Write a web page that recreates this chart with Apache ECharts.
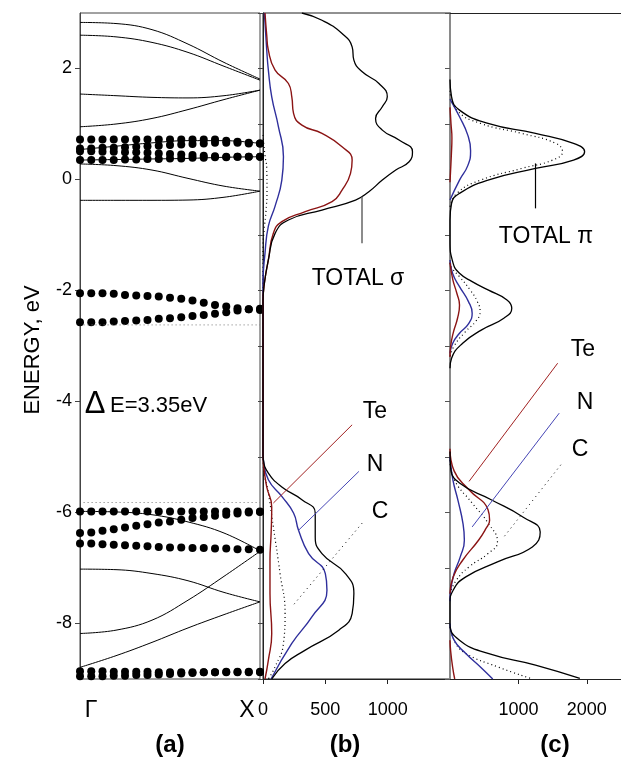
<!DOCTYPE html>
<html><head><meta charset="utf-8">
<script src="https://cdn.jsdelivr.net/npm/echarts@6/dist/echarts.min.js"></script>
<style>html,body{margin:0;padding:0;background:#fff}#c{width:621px;height:758px}</style>
</head><body><div id="c"></div>
<script>
// ---------- Panel (a): band structure, k from Gamma (0) to X (1) ----------
const kLine = [0, 0.2, 0.4, 0.6, 0.8, 1];
const bandLines = [
  [2.83, 2.81, 2.70, 2.44, 2.11, 1.81],
  [2.60, 2.57, 2.47, 2.29, 2.04, 1.79],
  [1.54, 1.51, 1.48, 1.47, 1.51, 1.61],
  [0.95, 1.00, 1.10, 1.26, 1.44, 1.61],
  [0.54, 0.60, 0.66, 0.70, 0.70, 0.65],
  [0.35, 0.36, 0.37, 0.38, 0.40, 0.41],
  [0.28, 0.25, 0.17, 0.02, -0.12, -0.21],
  [-0.375, -0.375, -0.375, -0.37, -0.32, -0.21],
  [-5.98, -5.99, -6.04, -6.17, -6.37, -6.69],
  [-7.02, -7.03, -7.10, -7.23, -7.44, -7.61],
  [-8.18, -8.12, -7.94, -7.58, -7.15, -6.70],
  [-8.79, -8.58, -8.34, -8.08, -7.84, -7.61]
];
const kDots = [0, 0.0625, 0.125, 0.1875, 0.25, 0.3125, 0.375, 0.4375, 0.5, 0.5625, 0.625, 0.6875, 0.75, 0.8125, 0.875, 0.9375, 1];
const dotBands = [
  [0.72,0.72,0.72,0.72,0.72,0.72,0.72,0.72,0.72,0.72,0.72,0.72,0.72,0.70,0.68,0.66,0.65],
  [0.56,0.56,0.57,0.57,0.58,0.59,0.60,0.61,0.62,0.63,0.64,0.65,0.66,0.66,0.66,0.65,0.65],
  [0.51,0.51,0.50,0.50,0.49,0.49,0.48,0.47,0.46,0.45,0.44,0.43,0.42,0.41,0.41,0.41,0.41],
  [0.35,0.35,0.35,0.35,0.36,0.36,0.37,0.37,0.38,0.38,0.39,0.39,0.40,0.40,0.41,0.41,0.41],
  [-2.05,-2.05,-2.05,-2.06,-2.08,-2.09,-2.10,-2.11,-2.13,-2.15,-2.18,-2.22,-2.26,-2.29,-2.32,-2.34,-2.35],
  [-2.57,-2.57,-2.57,-2.56,-2.55,-2.54,-2.53,-2.51,-2.50,-2.48,-2.46,-2.44,-2.42,-2.39,-2.36,-2.34,-2.33],
  [-5.98,-5.98,-5.98,-5.98,-5.98,-5.98,-5.98,-5.98,-5.98,-5.98,-5.98,-5.98,-5.98,-5.98,-5.98,-5.98,-5.98],
  [-6.37,-6.36,-6.33,-6.30,-6.27,-6.24,-6.21,-6.18,-6.16,-6.13,-6.10,-6.08,-6.06,-6.04,-6.02,-6.00,-5.99],
  [-6.56,-6.56,-6.57,-6.58,-6.59,-6.60,-6.61,-6.62,-6.63,-6.63,-6.64,-6.64,-6.65,-6.65,-6.66,-6.66,-6.67],
  [-8.86,-8.86,-8.86,-8.87,-8.87,-8.87,-8.87,-8.88,-8.88,-8.88,-8.88,-8.88,-8.88,-8.88,-8.88,-8.88,-8.88],
  [-8.95,-8.95,-8.95,-8.94,-8.94,-8.93,-8.93,-8.92,-8.91,-8.90,-8.89,-8.88,-8.88,-8.87,-8.87,-8.87,-8.87]
];
const gapEdges = [-2.62, -5.82];
const gapK = [0.02, 1];
const yTicksA = [-8, -6, -4, -2, 0, 2];

// ---------- Panel (b): sigma DOS, [value, energy] ----------
const sigmaTotal = [[312,3.0],[473,2.87],[634,2.63],[715,2.39],[729,2.15],[796,1.94],[930,1.73],[997,1.49],[957,1.31],[903,1.10],[957,0.89],[1091,0.71],[1199,0.50],[1172,0.32],[1065,0.17],[957,-0.01],[849,-0.22],[742,-0.37],[473,-0.55],[204,-0.73],[97,-0.97],[43,-1.45],[11,-1.87],[0,-2.2],[0,-4.95],[3,-5.05],[43,-5.29],[151,-5.54],[312,-5.77],[419,-6.01],[419,-6.44],[473,-6.74],[661,-7.10],[729,-7.46],[715,-7.82],[608,-8.12],[339,-8.48],[177,-8.72],[70,-9.0]];
const sigmaTe = [[16,3.0],[30,2.6],[43,2.33],[97,1.97],[204,1.73],[231,1.49],[245,1.19],[312,0.98],[473,0.83],[634,0.59],[715,0.35],[702,0.11],[634,-0.19],[554,-0.40],[339,-0.58],[151,-0.76],[83,-0.97],[43,-1.45],[11,-1.87],[0,-2.2],[0,-4.95],[3,-5.11],[30,-5.54],[70,-5.90],[65,-6.38],[56,-6.86],[56,-7.46],[70,-8.18],[43,-8.66],[16,-9.0]];
const sigmaN = [[11,3.0],[30,2.33],[43,1.97],[70,1.49],[124,0.95],[164,0.41],[151,-0.01],[97,-0.48],[43,-0.84],[16,-1.33],[0,-1.87],[0,-4.95],[3,-5.05],[43,-5.41],[151,-5.71],[245,-6.01],[285,-6.32],[366,-6.74],[500,-7.10],[513,-7.40],[392,-7.88],[231,-8.36],[65,-9.0]];
const sigmaC = [[0,0.8],[15,0.45],[30,0.2],[32,-0.2],[25,-0.55],[10,-0.9],[0,-1.2],[0,-4.95],[3,-5.17],[43,-5.65],[83,-6.26],[137,-7.10],[177,-7.82],[164,-8.36],[97,-8.78],[43,-9.0]];
const xTicksB = [0, 500, 1000];

// ---------- Panel (c): pi DOS, segments ----------
const piTotal = [
  [[0,1.8],[23,1.49],[139,1.25],[556,1.01],[1250,0.83],[1806,0.65],[1968,0.50],[1806,0.35],[1250,0.20],[556,-0.01],[139,-0.25],[23,-0.43],[0,-0.73],[0,-1.09],[46,-1.51],[139,-1.69],[324,-1.84],[556,-1.99],[833,-2.17],[903,-2.32],[787,-2.50],[463,-2.71],[185,-2.95],[23,-3.22],[0,-3.4]],
  [[0,-4.9],[10,-5.2],[139,-5.47],[602,-5.77],[1065,-6.08],[1319,-6.35],[1204,-6.62],[694,-6.89],[231,-7.16],[46,-7.40],[0,-7.64],[0,-8.0],[139,-8.30],[556,-8.54],[1250,-8.75],[1898,-8.99]]
];
const piC = [
  [[0,1.6],[100,1.25],[450,1.01],[1050,0.83],[1550,0.65],[1644,0.50],[1500,0.35],[1050,0.20],[450,-0.01],[100,-0.25],[0,-0.5]],
  [[0,-1.5],[30,-1.6],[139,-1.75],[300,-2.0],[400,-2.2],[440,-2.38],[380,-2.55],[220,-2.75],[60,-3.0],[0,-3.2]],
  [[0,-5.06],[60,-5.4],[324,-5.83],[556,-6.19],[694,-6.53],[556,-6.74],[278,-6.98],[92,-7.22],[0,-7.46]],
  [[0,-8.06],[80,-8.35],[231,-8.54],[694,-8.78],[1204,-9.0]]
];
const piN = [
  [[0,1.45],[139,1.13],[260,0.8],[301,0.52],[260,0.25],[139,-0.01],[0,-0.37]],
  [[0,-1.45],[40,-1.7],[139,-1.93],[270,-2.2],[324,-2.41],[270,-2.6],[139,-2.77],[40,-2.95],[0,-3.13]],
  [[0,-5.0],[40,-5.4],[120,-5.8],[190,-6.2],[210,-6.5],[150,-6.8],[60,-7.1],[10,-7.4],[0,-7.6]],
  [[0,-8.0],[60,-8.3],[231,-8.54],[460,-8.8],[625,-9.0]]
];
const piTe = [
  [[0,1.3],[15,1.0],[28,0.75],[20,0.45],[8,0.15],[0,-0.05]],
  [[0,-1.5],[40,-1.8],[100,-2.05],[139,-2.26],[110,-2.5],[50,-2.75],[10,-3.0],[0,-3.2]],
  [[0,-4.85],[60,-5.25],[278,-5.59],[556,-5.95],[579,-6.14],[520,-6.3],[417,-6.50],[185,-6.86],[46,-7.16],[0,-7.46]],
  [[0,-8.3],[10,-8.5],[40,-8.8],[69,-9.0]]
];
const xTicksC = [1000, 2000];

const RED = '#8b1414', BLUE = '#2f2f9c', FONT = '"Liberation Sans", Arial, sans-serif';

const series = [];
bandLines.forEach(b => series.push({type:'line', xAxisIndex:0, yAxisIndex:0, data: kLine.map((k,i)=>[k,b[i]]), smooth:0.4, showSymbol:false, lineStyle:{color:'#000', width:1}, silent:true}));
dotBands.forEach(b => series.push({type:'scatter', xAxisIndex:0, yAxisIndex:0, data: kDots.map((k,i)=>[k,b[i]]), symbolSize:8, itemStyle:{color:'#000', opacity:1}, clip:false, silent:true}));
gapEdges.forEach(e => series.push({type:'line', xAxisIndex:0, yAxisIndex:0, data: gapK.map(k=>[k,e]), showSymbol:false, lineStyle:{color:'#777', width:1, type:[1,3]}, silent:true}));

function dos(xi, yi, data, color, width, type, z) {
  return {type:'line', xAxisIndex:xi, yAxisIndex:yi, data, smooth:0.5, showSymbol:false, lineStyle:{color, width, type: type||'solid'}, z: z||3, silent:true};
}
series.push(dos(1,1,sigmaC,'#000',1.2,[1,3]));
series.push(dos(1,1,sigmaN,BLUE,1.4));
series.push(dos(1,1,sigmaTe,RED,1.4));
series.push(dos(1,1,sigmaTotal,'#000',1.3,null,4));
piC.forEach(s => series.push(dos(2,2,s,'#000',1.2,[1,3])));
piN.forEach(s => series.push(dos(2,2,s,BLUE,1.4)));
piTe.forEach(s => series.push(dos(2,2,s,RED,1.4)));
piTotal.forEach(s => series.push(dos(2,2,s,'#000',1.3,null,4)));

function leader(xi, yi, a, b, color, width, type) {
  return {type:'line', xAxisIndex:xi, yAxisIndex:yi, data:[], silent:true,
    markLine:{silent:true, symbol:['none','none'], label:{show:false}, animation:false,
      lineStyle:{color, width, type: type||'solid'}, data:[[{coord:a},{coord:b}]]}};
}
series.push(leader(1,1,[715,-4.42],[83,-5.83],'#a02020',1));
series.push(leader(1,1,[769,-5.26],[285,-6.32],'#4545b5',1));
series.push(leader(1,1,[796,-6.19],[231,-7.70],'#000',1,[1,4]));
series.push(leader(1,1,[790,-0.31],[790,-1.15],'#666',1.5));
series.push(leader(2,2,[1574,-3.31],[278,-5.44],'#a02020',1));
series.push(leader(2,2,[1597,-4.21],[324,-6.26],'#4545b5',1));
series.push(leader(2,2,[1621,-5.14],[788,-6.44],'#000',1,[1,4]));
series.push(leader(2,2,[1250,0.29],[1250,-0.52],'#000',1.2));

const lab = {color:'#000', fontFamily:FONT, fontSize:18, formatter: v => String(v)};
const txt = (x,y,text,size,extra) => ({type:'text', x, y, style:Object.assign({text, fill:'#000', font: (extra&&extra.bold?'bold ':'') + size+'px '+FONT, align:'center', verticalAlign:'middle'}, extra&&extra.align?{align:extra.align}:{})});

const option = {
  animation:false,
  grid:[
    {left:80, top:13, width:180, height:666, show:true, borderColor:'#444', borderWidth:1},
    {left:263, top:13, width:187, height:666, show:true, borderColor:'#222', borderWidth:1},
    {left:450, top:13, width:180, height:666, show:false}
  ],
  xAxis:[
    {gridIndex:0, type:'value', min:0, max:1, axisLine:{show:false, onZero:false}, axisTick:{show:false}, axisLabel:{show:false}, splitLine:{show:false}},
    {gridIndex:1, type:'value', position:'bottom', min:0, max:1500, axisLine:{show:true, onZero:false, lineStyle:{color:'#222'}}, axisTick:{show:true, customValues:xTicksB, length:5, lineStyle:{color:'#222'}}, axisLabel:Object.assign({customValues:xTicksB, margin:22}, lab), splitLine:{show:false}},
    {gridIndex:2, type:'value', position:'bottom', min:0, max:2500, axisLine:{show:true, onZero:false, lineStyle:{color:'#222'}}, axisTick:{show:true, customValues:xTicksC, length:5, lineStyle:{color:'#222'}}, axisLabel:Object.assign({customValues:xTicksC, margin:22}, lab), splitLine:{show:false}},
    {gridIndex:2, type:'value', position:'top', min:0, max:2500, axisLine:{show:true, onZero:false, lineStyle:{color:'#222'}}, axisTick:{show:false}, axisLabel:{show:false}, splitLine:{show:false}}
  ],
  yAxis:[
    {gridIndex:0, type:'value', min:-9, max:3, axisLine:{show:true, onZero:false, lineStyle:{color:'#444'}}, axisTick:{show:true, customValues:yTicksA, length:5, lineStyle:{color:'#444'}}, axisLabel:Object.assign({customValues:yTicksA, margin:8}, lab), splitLine:{show:false}},
    {gridIndex:1, type:'value', min:-9, max:3, interval:1, axisLine:{show:true, onZero:false, lineStyle:{color:'#222'}}, axisTick:{show:true, length:5, lineStyle:{color:'#444'}}, axisLabel:{show:false}, splitLine:{show:false}},
    {gridIndex:2, type:'value', min:-9, max:3, interval:1, axisLine:{show:true, onZero:false, lineStyle:{color:'#8a8a8a', width:2}}, axisTick:{show:true, length:5, lineStyle:{color:'#555'}}, axisLabel:{show:false}, splitLine:{show:false}}
  ],
  graphic:[
    {type:'text', x:33, y:350, rotation:Math.PI/2, style:{text:'ENERGY, eV', fill:'#000', font:'22px '+FONT, align:'center', verticalAlign:'middle'}},
    txt(91,711,'Γ',23), txt(247,711,'X',23),
    txt(95,404,'Δ',31), txt(110,406,'E=3.35eV',22,{align:'left'}),
    txt(358,279,'TOTAL σ',23), txt(546,237,'TOTAL π',23),
    txt(375,412,'Te',23), txt(375,465,'N',23), txt(380,512,'C',23),
    txt(583,350,'Te',23), txt(585,403,'N',23), txt(580,450,'C',23),
    txt(170,745,'(a)',24,{bold:true}), txt(345,745,'(b)',24,{bold:true}), txt(555,745,'(c)',24,{bold:true})
  ],
  series
};
echarts.init(document.getElementById('c'), null, {renderer:'canvas'}).setOption(option);
</script></body></html>
